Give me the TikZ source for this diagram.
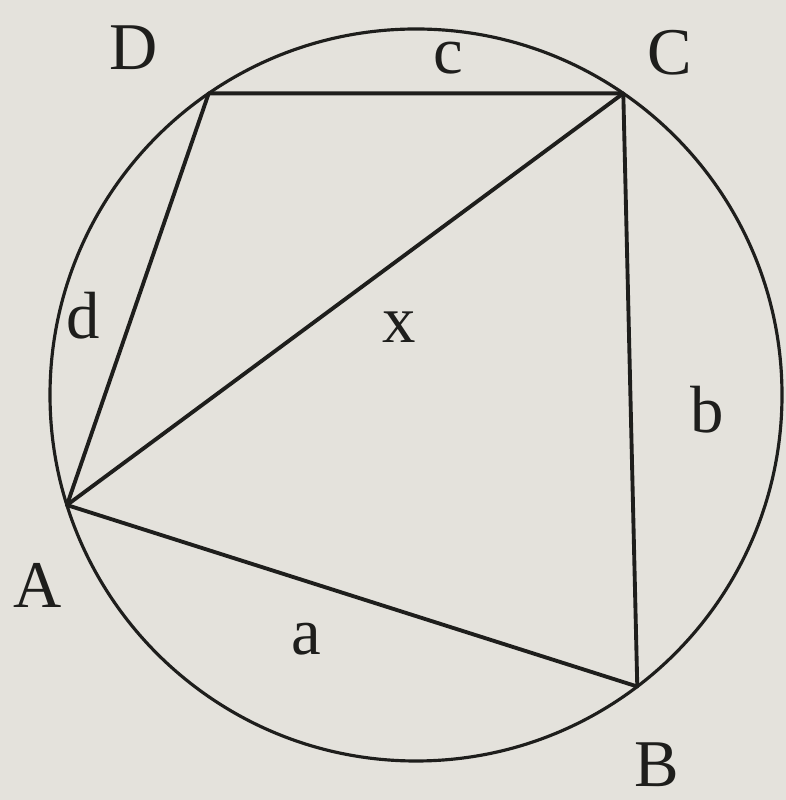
\documentclass[tikz,border=0pt]{standalone}
\usepackage{fontspec}
\setmainfont{Liberation Serif}
\usetikzlibrary{calc}
\definecolor{paperBg}{HTML}{E4E2DC}
\definecolor{inkDark}{HTML}{1E1E1C}

\begin{document}
\begin{tikzpicture}[every node/.style={font=\fontsize{19}{22}\selectfont, text=inkDark, inner sep=0pt},
    rim/.style={draw=inkDark, line width=0.9pt},
    chord/.style={draw=inkDark, line width=1.1pt, line join=round}]
    \fill[paperBg] (0,0) rectangle (7.86,8.00);
    % circle and the four points on it
    \coordinate (O) at (4.16,4.05);
    \draw[rim] (O) circle (3.66);
    \coordinate (A) at ($(O)+(197.5:3.66)$);
    \coordinate (B) at ($(O)+(307.2:3.66)$);
    \coordinate (C) at ($(O)+(55.5:3.66)$);
    \coordinate (D) at ($(O)+(124.5:3.66)$);
    \draw[chord] (A) -- (B) -- (C) -- (D) -- cycle;
    \draw[chord] (A) -- (C);
    % labels
    \node (lD) at (1.34,7.52) {D};
    \node (lC) at (6.70,7.47) {C};
    \node (lA) at (0.38,2.15) {A};
    \node (lB) at (6.57,0.35) {B};
    \node (la) at (3.06,1.61) {a};
    \node (lb) at (7.07,3.90) {b};
    \node (lc) at (4.48,7.42) {c};
    \node (ld) at (0.83,4.84) {d};
    \node (lx) at (3.99,4.73) {x};
\end{tikzpicture}
\end{document}
